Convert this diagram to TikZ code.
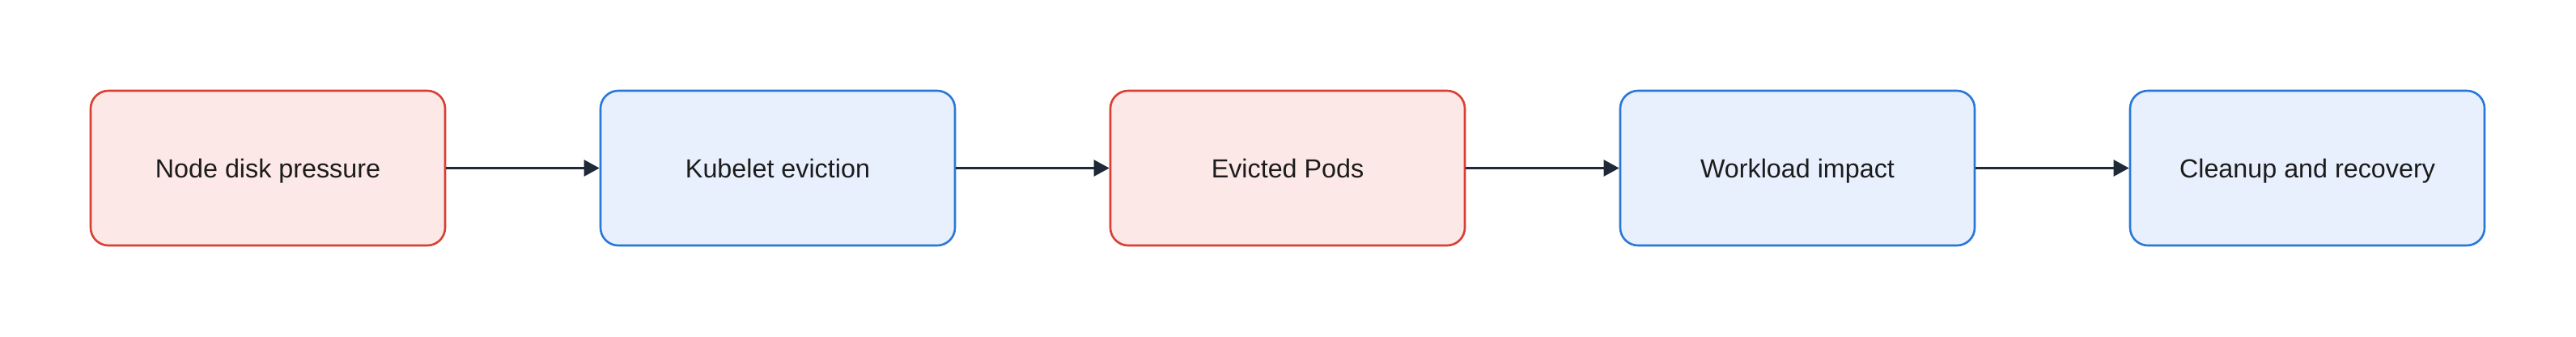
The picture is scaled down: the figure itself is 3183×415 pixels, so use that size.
\documentclass[tikz,border=0pt]{standalone}
\usepackage{fontspec}
\setmainfont{Liberation Sans}
\usetikzlibrary{arrows.meta}
\definecolor{redfill}{HTML}{FCE8E6}
\definecolor{redline}{HTML}{D93F32}
\definecolor{bluefill}{HTML}{E8F0FE}
\definecolor{blueline}{HTML}{2A78D6}
\definecolor{arrowc}{HTML}{1F2937}
\definecolor{textc}{HTML}{1C1C1C}
\tikzset{
  box/.style={rectangle, rounded corners=22pt, minimum width=438pt, minimum height=191pt, line width=2.6pt, inner sep=0pt, text height=23pt, text depth=0pt, text=textc, font=\fontsize{32.3}{38}\selectfont},
  redbox/.style={box, draw=redline, fill=redfill},
  bluebox/.style={box, draw=blueline, fill=bluefill},
  conn/.style={draw=arrowc, line width=2.6pt, -{Triangle[length=19pt,width=20pt]}}
}
\begin{document}
\begin{tikzpicture}[x=1pt,y=-1pt]
\useasboundingbox[fill=white] (0,0) rectangle (3183,415);
\node[redbox]  (a) at (331,207.5)  {Node disk pressure};
\node[bluebox] (b) at (961,207.5)  {Kubelet eviction};
\node[redbox]  (c) at (1591,207.5) {Evicted Pods};
\node[bluebox] (d) at (2221,207.5) {Workload impact};
\node[bluebox] (e) at (2851,207.5) {Cleanup and recovery};
\draw[conn] (a) -- (b);
\draw[conn] (b) -- (c);
\draw[conn] (c) -- (d);
\draw[conn] (d) -- (e);
\end{tikzpicture}
\end{document}
